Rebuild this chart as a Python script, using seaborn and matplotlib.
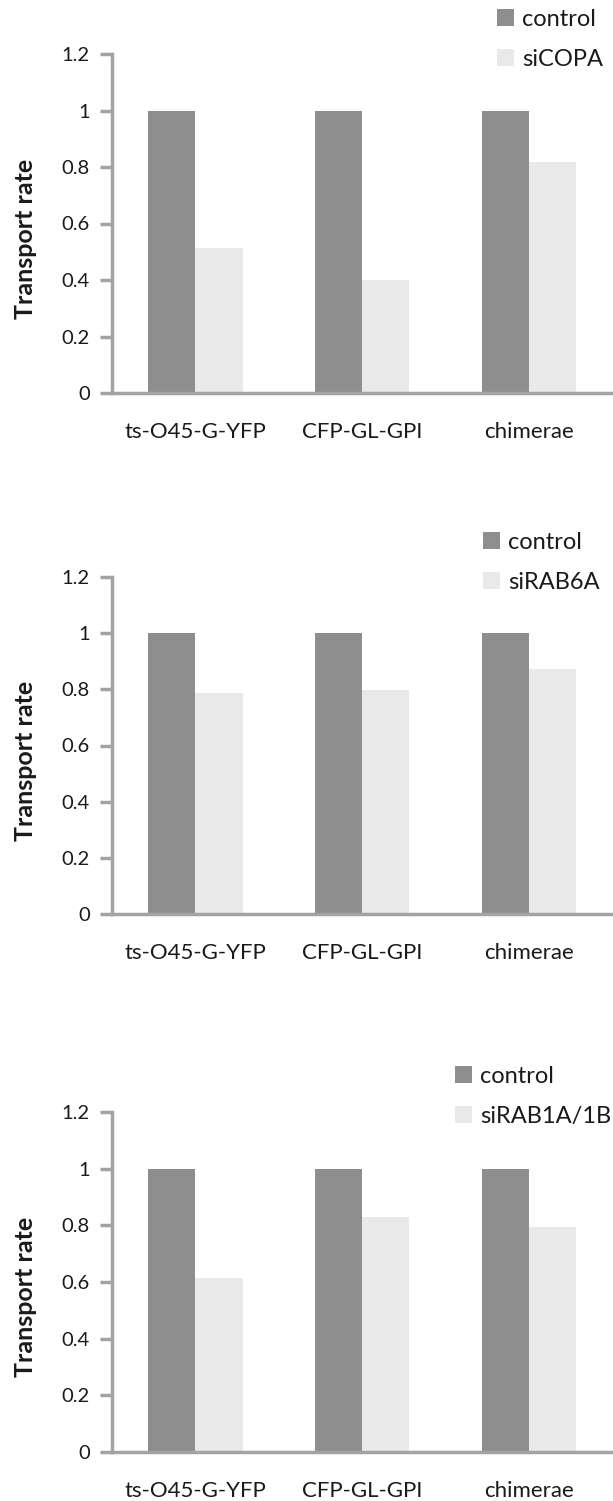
import numpy as np
import pandas as pd
import matplotlib
matplotlib.use('Agg')
import matplotlib.pyplot as plt
import seaborn as sns

# 数据
categories = ['ts-O45-G-YFP', 'CFP-GL-GPI', 'chimerae']
control = [1.0, 1.0, 1.0]
si_names = ['siCOPA', 'siRAB6A', 'siRAB1A/1B']
si_copa = [0.515, 0.40, 0.817]
si_rab6a = [0.787, 0.796, 0.873]
si_rab1 = [0.615, 0.829, 0.794]
y_ticks = [0, 0.2, 0.4, 0.6, 0.8, 1, 1.2]
y_tick_labels = ['0', '0.2', '0.4', '0.6', '0.8', '1', '1.2']

sns.set_theme(style='white')
plt.rcParams['font.family'] = ['Lato', 'DejaVu Sans']

W, H = 613, 1501
fig = plt.figure(figsize=(W / 100, H / 100), dpi=100)

axis_color = '#a3a3a3'
text_color = '#1a1a1a'
colors = ['#8e8e8e', '#e9e9e9']

# 每个子图: (数据, 名称, 顶部像素, 底部像素, 图例左侧像素, 图例顶部像素)
panels = [
    (si_copa, si_names[0], 54, 393, 497, 9),
    (si_rab6a, si_names[1], 577, 914, 483, 532),
    (si_rab1, si_names[2], 1112, 1452, 455, 1066),
]

for values, name, top, bottom, leg_x, leg_y in panels:
    ax = fig.add_axes([112 / W, 1 - bottom / H, 500 / W, (bottom - top) / H])
    df = pd.DataFrame({
        'category': categories * 2,
        'rate': control + values,
        'group': ['control'] * 3 + [name] * 3,
    })
    sns.barplot(data=df, x='category', y='rate', hue='group', palette=colors,
                width=0.566, linewidth=0, saturation=1, ax=ax)

    ax.set_xlim(-0.5, 2.5)
    ax.set_ylim(0, 1.2)
    ax.set_yticks(y_ticks)
    ax.set_yticklabels(y_tick_labels, fontsize=14.5, color=text_color)
    ax.set_xticks([0, 1, 2])
    ax.set_xticklabels(categories, fontsize=16, color=text_color)
    ax.set_xticks([-0.5, 0.5, 1.5, 2.5], minor=True)
    ax.tick_params(axis='x', which='major', length=0, pad=21)
    ax.tick_params(axis='x', which='minor', length=8, width=2.5, color=axis_color, direction='out')
    ax.tick_params(axis='y', length=9, width=2.5, color=axis_color, direction='out', pad=7, left=True)
    ax.set_xlabel('')
    ax.set_ylabel('Transport rate', fontsize=18, fontweight='bold', labelpad=18, color=text_color)
    ax.yaxis.label.set_y(0.455)

    sns.despine(ax=ax)
    for side in ['left', 'bottom']:
        ax.spines[side].set_color(axis_color)
        ax.spines[side].set_linewidth(2.5)
    ax.spines['bottom'].set_zorder(3)

    # 图例
    handles, labels = ax.get_legend_handles_labels()
    leg = ax.legend(handles, labels, loc='upper left',
                    bbox_to_anchor=(leg_x / W, 1 - leg_y / H), bbox_transform=fig.transFigure,
                    frameon=False, fontsize=17, handlelength=0.7, handleheight=0.7,
                    handletextpad=0.35, labelspacing=0.8, borderpad=0, borderaxespad=0)
    for t in leg.get_texts():
        t.set_color(text_color)

fig.savefig('out.png', dpi=100)
